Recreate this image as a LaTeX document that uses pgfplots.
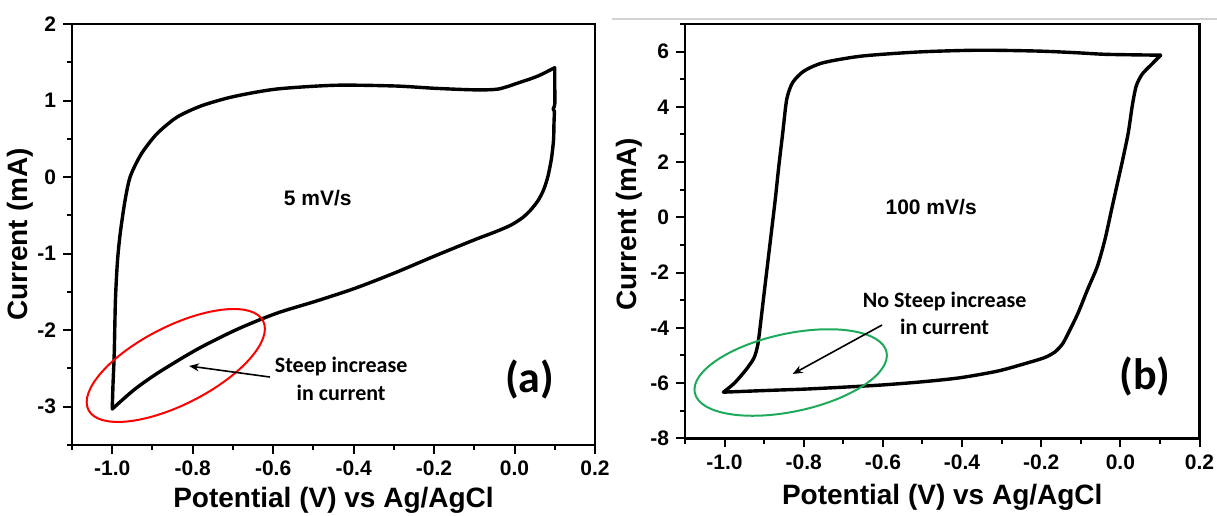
\documentclass[border=0pt]{standalone}
\usepackage{fontspec}
\setmainfont{Liberation Sans}
\newfontfamily\carlito{Carlito}
\usepackage{pgfplots}
\pgfplotsset{compat=1.18}
\usetikzlibrary{shapes.geometric,arrows.meta}

% common look of both panels (1 px of the reference = 0.5pt)
\pgfplotsset{cvpanel/.style={
    scale only axis,
    anchor=south west,
    axis line style={line width=1.2pt},
    tick align=outside,
    xtick pos=bottom, ytick pos=left,
    major tick length=4.5pt, minor tick length=2.6pt,
    every tick/.style={black, line width=1pt},
    /pgf/number format/assume math mode=true,
    tick label style={font=\bfseries\fontsize{10.5}{12}\selectfont},
    xticklabel style={/pgf/number format/fixed, /pgf/number format/fixed zerofill,
                      /pgf/number format/precision=1},
    yticklabel style={/pgf/number format/fixed, /pgf/number format/precision=0},
    label style={font=\bfseries\fontsize{14}{16}\selectfont},
    xmin=-1.1, xmax=0.2,
    xtick={-1.0,-0.8,-0.6,-0.4,-0.2,0,0.2},
    minor xtick={-1.1,-0.9,-0.7,-0.5,-0.3,-0.1,0.1},
    xlabel={Potential (V) vs Ag/AgCl},
    ylabel={Current (mA)},
    clip=false,
},
cvline/.style={black, line width=1.7pt, line join=round, line cap=round, smooth, tension=0.45}}

\begin{document}
\begin{tikzpicture}
\useasboundingbox (0,0) rectangle (608.5pt,257.5pt);
\draw[gray!35, line width=0.6pt] (306pt,248pt) -- (608.5pt,248pt);

% ---------- (a) 5 mV/s ----------
\begin{axis}[cvpanel,
    at={(36pt,35pt)}, width=261.5pt, height=210.5pt,
    ymin=-3.5, ymax=2,
    ytick={-3,-2,-1,0,1,2},
    minor ytick={-3.5,-2.5,-1.5,-0.5,0.5,1.5},
    xlabel style={at={(axis description cs:0.5,-0.131)}, anchor=center},
    ylabel style={at={(axis description cs:-0.099,0.5)}, anchor=center},
]
% cathodic sweep: 0.1 V down to -1.0 V
\addplot[cvline] coordinates {
(0.100,1.43) (0.100,1.20) (0.100,0.95) (0.096,0.89) (0.099,0.86) (0.098,0.70)
(0.097,0.49) (0.092,0.25) (0.083,0.01) (0.072,-0.17) (0.058,-0.31) (0.040,-0.43)
(0.020,-0.53) (-0.010,-0.63) (-0.050,-0.72) (-0.100,-0.82) (-0.198,-1.03)
(-0.297,-1.25) (-0.395,-1.45) (-0.493,-1.62) (-0.592,-1.78) (-0.690,-1.99)
(-0.789,-2.25) (-0.887,-2.56) (-0.946,-2.78) (-1.000,-3.03)
};
% anodic sweep: -1.0 V back up to 0.1 V
\addplot[cvline] coordinates {
(-1.000,-3.03) (-0.998,-2.70) (-0.995,-2.30) (-0.992,-1.60) (-0.987,-1.10)
(-0.980,-0.73) (-0.968,-0.30) (-0.955,0.01) (-0.928,0.30) (-0.890,0.56)
(-0.840,0.78) (-0.779,0.93) (-0.700,1.05) (-0.592,1.15) (-0.444,1.20)
(-0.296,1.19) (-0.198,1.16) (-0.100,1.14) (-0.041,1.15) (0.009,1.23)
(0.058,1.32) (0.100,1.43)
};
\node[draw=red, line width=1pt, ellipse, minimum width=98pt, minimum height=39pt,
      inner sep=0pt, rotate=27] at (axis cs:-0.842,-2.461) {};
\draw[-{Stealth[length=5pt,width=4pt]}, line width=0.8pt] (axis cs:-0.608,-2.612) -- (axis cs:-0.809,-2.468);
\node[font=\bfseries\fontsize{10.5}{12}\selectfont] at (axis cs:-0.489,-0.273) {5 mV/s};
\node[align=center, font=\carlito\bfseries\fontsize{11}{14}\selectfont] at (axis cs:-0.431,-2.638) {Steep increase\\in current};
\node[font=\carlito\bfseries\fontsize{22}{24}\selectfont] at (axis cs:0.038,-2.638) {(a)};
\end{axis}

% ---------- (b) 100 mV/s ----------
\begin{axis}[cvpanel,
    at={(342.5pt,38.35pt)}, width=257.25pt, height=207.15pt,
    ymin=-8, ymax=7,
    ytick={-8,-6,-4,-2,0,2,4,6},
    minor ytick={-7,-5,-3,-1,1,3,5,7},
    xlabel style={at={(axis description cs:0.5,-0.142)}, anchor=center},
    ylabel style={at={(axis description cs:-0.108,0.517)}, anchor=center},
]
% cathodic sweep
\addplot[cvline] coordinates {
(0.102,5.87) (0.079,5.54) (0.055,5.18) (0.040,4.75) (0.030,4.03) (0.020,3.06)
(0.006,2.09) (-0.009,1.13) (-0.024,0.16) (-0.039,-0.81) (-0.058,-1.77)
(-0.083,-2.62) (-0.107,-3.47) (-0.130,-4.15) (-0.146,-4.58) (-0.165,-4.87)
(-0.190,-5.07) (-0.230,-5.25) (-0.308,-5.56) (-0.406,-5.81) (-0.505,-5.96)
(-0.603,-6.07) (-0.701,-6.15) (-0.799,-6.22) (-0.897,-6.27) (-1.003,-6.33)
};
% anodic sweep
\addplot[cvline] coordinates {
(-1.003,-6.33) (-0.975,-6.00) (-0.946,-5.52) (-0.926,-5.10) (-0.917,-4.68)
(-0.912,-4.19) (-0.902,-2.98) (-0.892,-1.77) (-0.882,-0.57) (-0.872,0.64)
(-0.863,1.85) (-0.853,3.06) (-0.843,4.27) (-0.828,4.88) (-0.799,5.30)
(-0.750,5.60) (-0.652,5.84) (-0.505,5.99) (-0.357,6.05) (-0.210,6.02)
(-0.112,5.96) (-0.034,5.90) (0.102,5.87)
};
\node[draw={rgb,255:red,30;green,170;blue,90}, line width=1pt, ellipse, minimum width=98pt,
      minimum height=39pt, inner sep=0pt, rotate=12] at (axis cs:-0.833,-5.618) {};
\draw[-{Stealth[length=5pt,width=4pt]}, line width=0.8pt] (axis cs:-0.602,-3.898) -- (axis cs:-0.828,-5.672);
\node[font=\bfseries\fontsize{10.5}{12}\selectfont] at (axis cs:-0.478,0.374) {100 mV/s};
\node[align=center, font=\carlito\bfseries\fontsize{11}{13.5}\selectfont] at (axis cs:-0.444,-3.48) {No Steep increase\\in current};
\node[font=\carlito\bfseries\fontsize{22}{24}\selectfont] at (axis cs:0.062,-5.77) {(b)};
\end{axis}
\end{tikzpicture}
\end{document}
